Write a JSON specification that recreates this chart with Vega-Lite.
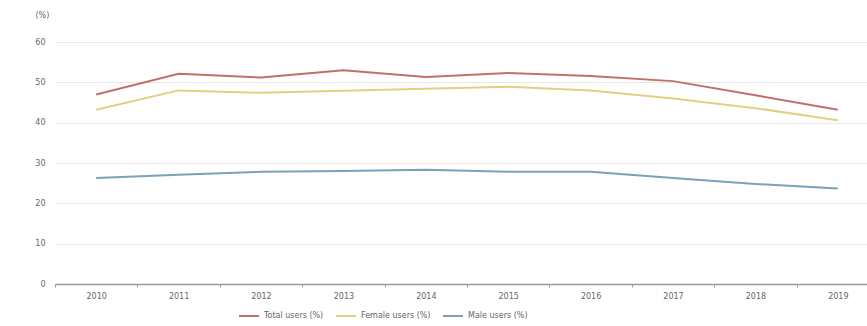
{
  "$schema": "https://vega.github.io/schema/vega-lite/v6.json",
  "width": 824,
  "height": 242,
  "autosize": {"type": "none"},
  "padding": {"left": 55, "top": 42, "right": 0, "bottom": 42},
  "background": "white",
  "data": {
    "values": [
      {"year": "2010", "series": "Total users (%)", "value": 47.0},
      {"year": "2011", "series": "Total users (%)", "value": 52.1},
      {"year": "2012", "series": "Total users (%)", "value": 51.2},
      {"year": "2013", "series": "Total users (%)", "value": 53.0},
      {"year": "2014", "series": "Total users (%)", "value": 51.3},
      {"year": "2015", "series": "Total users (%)", "value": 52.3},
      {"year": "2016", "series": "Total users (%)", "value": 51.6},
      {"year": "2017", "series": "Total users (%)", "value": 50.3},
      {"year": "2018", "series": "Total users (%)", "value": 46.8},
      {"year": "2019", "series": "Total users (%)", "value": 43.2},
      {"year": "2010", "series": "Female users (%)", "value": 43.2},
      {"year": "2011", "series": "Female users (%)", "value": 48.0},
      {"year": "2012", "series": "Female users (%)", "value": 47.4},
      {"year": "2013", "series": "Female users (%)", "value": 47.9},
      {"year": "2014", "series": "Female users (%)", "value": 48.4},
      {"year": "2015", "series": "Female users (%)", "value": 48.9},
      {"year": "2016", "series": "Female users (%)", "value": 48.0},
      {"year": "2017", "series": "Female users (%)", "value": 46.0},
      {"year": "2018", "series": "Female users (%)", "value": 43.6},
      {"year": "2019", "series": "Female users (%)", "value": 40.6},
      {"year": "2010", "series": "Male users (%)", "value": 26.3},
      {"year": "2011", "series": "Male users (%)", "value": 27.1},
      {"year": "2012", "series": "Male users (%)", "value": 27.8},
      {"year": "2013", "series": "Male users (%)", "value": 28.0},
      {"year": "2014", "series": "Male users (%)", "value": 28.3},
      {"year": "2015", "series": "Male users (%)", "value": 27.8},
      {"year": "2016", "series": "Male users (%)", "value": 27.8},
      {"year": "2017", "series": "Male users (%)", "value": 26.3},
      {"year": "2018", "series": "Male users (%)", "value": 24.8},
      {"year": "2019", "series": "Male users (%)", "value": 23.7}
    ]
  },
  "mark": {"type": "line", "strokeWidth": 2, "interpolate": "linear"},
  "encoding": {
    "x": {
      "field": "year",
      "type": "ordinal",
      "bandPosition": 0.5,
      "scale": {"type": "band", "paddingInner": 0, "paddingOuter": 0},
      "axis": {
        "title": null,
        "labelAngle": 0,
        "labelFont": "DejaVu Sans",
        "labelFontSize": 8,
        "labelColor": "#666",
        "labelPadding": 5,
        "tickBand": "extent",
        "tickSize": 3,
        "tickColor": "#999",
        "domainColor": "#999",
        "domainWidth": 1.5,
        "grid": false
      }
    },
    "y": {
      "field": "value",
      "type": "quantitative",
      "scale": {"domain": [0, 60]},
      "axis": {
        "values": [0, 10, 20, 30, 40, 50, 60],
        "title": "(%)",
        "titleAngle": 0,
        "titleAlign": "left",
        "titleBaseline": "middle",
        "titleX": -20,
        "titleY": -27,
        "titleFont": "DejaVu Sans",
        "titleFontSize": 8,
        "titleFontWeight": "normal",
        "titleColor": "#666",
        "labelFont": "DejaVu Sans",
        "labelFontSize": 8,
        "labelColor": "#666",
        "labelPadding": 10,
        "ticks": false,
        "domain": false,
        "grid": true,
        "gridColor": "#e8e8e8"
      }
    },
    "color": {
      "field": "series",
      "type": "nominal",
      "sort": ["Total users (%)", "Female users (%)", "Male users (%)"],
      "scale": {
        "domain": ["Total users (%)", "Female users (%)", "Male users (%)"],
        "range": ["#c07068", "#e0d080", "#7aa2b8"]
      },
      "legend": {
        "title": null,
        "orient": "none",
        "direction": "horizontal",
        "legendX": 183,
        "legendY": 263,
        "symbolType": "stroke",
        "symbolSize": 400,
        "symbolStrokeWidth": 2,
        "labelFont": "DejaVu Sans",
        "labelFontSize": 8,
        "labelColor": "#666",
        "columnPadding": 8
      }
    }
  },
  "config": {"view": {"stroke": null}}
}
